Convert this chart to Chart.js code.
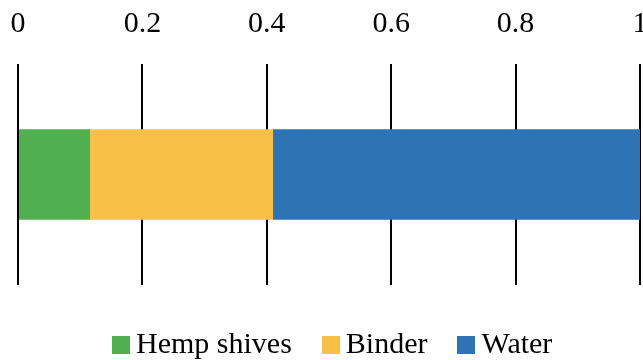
<!DOCTYPE html>
<html>
<head>
<meta charset="utf-8">
<script src="https://cdn.jsdelivr.net/npm/chart.js@4.4.1/dist/chart.umd.min.js"></script>
<style>
  html, body { margin: 0; padding: 0; background: #fff; overflow: hidden; }
  #wrap { position: relative; width: 650px; height: 360px; }
  #legend {
    position: absolute; left: 112px; top: 326px;
    display: flex; align-items: center;
    font-family: "Liberation Serif", "Times New Roman", serif; font-size: 30px; color: #000;
  }
  #legend .item { display: flex; align-items: center; margin-right: 30px; }
  #legend .box { width: 18px; height: 18px; margin-right: 6px; margin-top: 3px; }
</style>
</head>
<body>
<div id="wrap">
  <canvas id="chart" width="650" height="360"></canvas>
  <div id="legend"></div>
</div>
<script>
const categories = ["Mix"];
const seriesNames = ["Hemp shives", "Binder", "Water"];
const hempValues = [0.116];
const binderValues = [0.294];
const waterValues = [0.59];
const tickValues = [0, 0.2, 0.4, 0.6, 0.8, 1];
const seriesColors = ["#50b050", "#f8c046", "#2e74b5"];

document.addEventListener("DOMContentLoaded", function () {
  const seriesData = [hempValues, binderValues, waterValues];

  new Chart(document.getElementById("chart").getContext("2d"), {
    type: "bar",
    data: {
      labels: categories,
      datasets: seriesNames.map(function (name, i) {
        return {
          label: name,
          data: seriesData[i],
          backgroundColor: seriesColors[i],
          borderWidth: 0,
          categoryPercentage: 1,
          barPercentage: 0.41,
        };
      }),
    },
    options: {
      indexAxis: "y",
      responsive: false,
      animation: false,
      layout: { padding: { left: 18, right: 10, top: 0, bottom: 75 } },
      plugins: { legend: { display: false }, tooltip: { enabled: false } },
      scales: {
        x: {
          position: "top",
          stacked: true,
          min: 0,
          max: 1,
          afterBuildTicks: function (axis) {
            axis.ticks = tickValues.map(function (v) { return { value: v }; });
          },
          // keep the plot area fixed; the "1" label is allowed to run off the edge
          afterFit: function (axis) {
            axis.paddingLeft = 0;
            axis.paddingRight = 0;
            axis.paddingTop = 0;
            axis.paddingBottom = 0;
            axis.height = 64;
          },
          border: { display: false },
          grid: { color: "#000", lineWidth: 2, drawTicks: false },
          ticks: {
            color: "#000",
            padding: 22,
            maxRotation: 0,
            font: { family: "'Liberation Serif', 'Times New Roman', serif", size: 30 },
            callback: function (v) { return String(Math.round(v * 10) / 10); },
          },
        },
        y: { stacked: true, display: false },
      },
    },
  });

  const legend = document.getElementById("legend");
  seriesNames.forEach(function (name, i) {
    const item = document.createElement("div");
    item.className = "item";
    item.innerHTML = '<span class="box"></span><span></span>';
    item.querySelector(".box").style.background = seriesColors[i];
    item.querySelector("span:last-child").textContent = name;
    legend.appendChild(item);
  });
});
</script>
</body>
</html>
